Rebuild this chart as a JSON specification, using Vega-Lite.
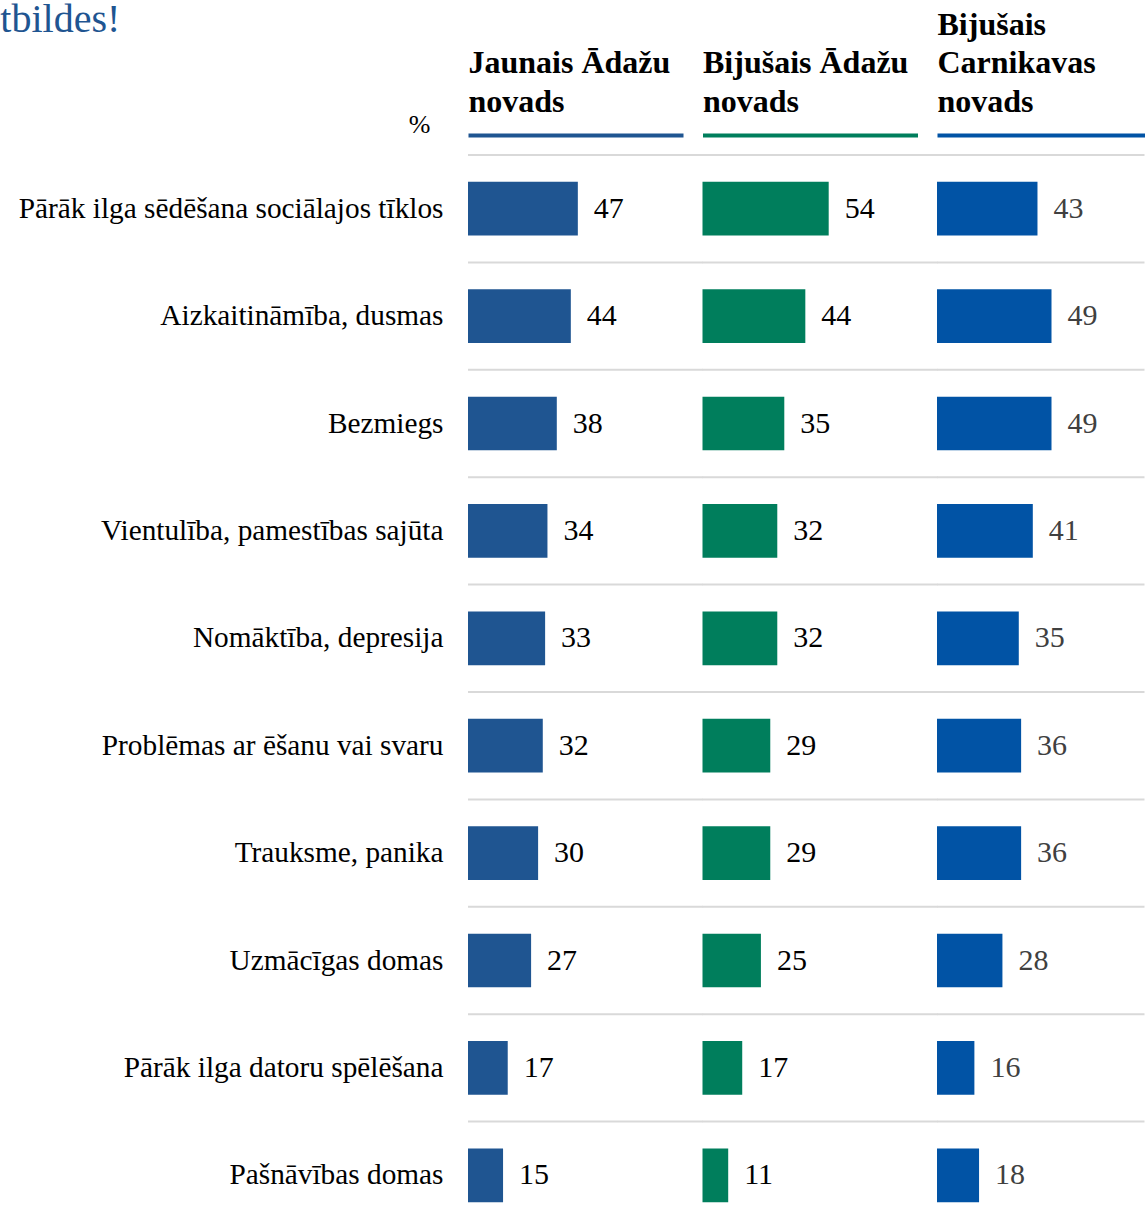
{
  "$schema": "https://vega.github.io/schema/vega-lite/v6.json",
  "background": "white",
  "padding": 0,
  "bounds": "flush",
  "spacing": 19.5,
  "title": {"text": "tbildes!", "anchor": "start", "font": "Liberation Serif", "fontSize": 40, "fontWeight": "normal", "color": "#1F5591", "offset": -32, "dx": -18},
  "config": {"view": {"stroke": null}},
  "datasets": {
    "c1": [
      {"item": "Pārāk ilga sēdēšana sociālajos tīklos", "value": 47},
      {"item": "Aizkaitināmība, dusmas", "value": 44},
      {"item": "Bezmiegs", "value": 38},
      {"item": "Vientulība, pamestības sajūta", "value": 34},
      {"item": "Nomāktība, depresija", "value": 33},
      {"item": "Problēmas ar ēšanu vai svaru", "value": 32},
      {"item": "Trauksme, panika", "value": 30},
      {"item": "Uzmācīgas domas", "value": 27},
      {"item": "Pārāk ilga datoru spēlēšana", "value": 17},
      {"item": "Pašnāvības domas", "value": 15}
    ],
    "c2": [
      {"item": "Pārāk ilga sēdēšana sociālajos tīklos", "value": 54},
      {"item": "Aizkaitināmība, dusmas", "value": 44},
      {"item": "Bezmiegs", "value": 35},
      {"item": "Vientulība, pamestības sajūta", "value": 32},
      {"item": "Nomāktība, depresija", "value": 32},
      {"item": "Problēmas ar ēšanu vai svaru", "value": 29},
      {"item": "Trauksme, panika", "value": 29},
      {"item": "Uzmācīgas domas", "value": 25},
      {"item": "Pārāk ilga datoru spēlēšana", "value": 17},
      {"item": "Pašnāvības domas", "value": 11}
    ],
    "c3": [
      {"item": "Pārāk ilga sēdēšana sociālajos tīklos", "value": 43},
      {"item": "Aizkaitināmība, dusmas", "value": 49},
      {"item": "Bezmiegs", "value": 49},
      {"item": "Vientulība, pamestības sajūta", "value": 41},
      {"item": "Nomāktība, depresija", "value": 35},
      {"item": "Problēmas ar ēšanu vai svaru", "value": 36},
      {"item": "Trauksme, panika", "value": 36},
      {"item": "Uzmācīgas domas", "value": 28},
      {"item": "Pārāk ilga datoru spēlēšana", "value": 16},
      {"item": "Pašnāvības domas", "value": 18}
    ]
  },
  "hconcat": [
    {
      "width": 215, "height": 1068,
      "data": {"name": "c1"},
      "layer": [
        {
          "mark": {"type": "rule", "color": "#D9D9D9", "strokeWidth": 2},
          "encoding": {
            "y": {"field": "item", "type": "nominal", "sort": null, "bandPosition": 0,
                  "scale": {"range": [0, 1074], "paddingInner": 0, "paddingOuter": 0},
                  "axis": {"domain": false, "ticks": false, "grid": false, "labelFont": "Liberation Serif", "labelFontSize": 29.3, "labelColor": "#000000", "labelPadding": 25, "labelLimit": 700, "title": "%", "titleAngle": 0, "titleX": -38, "titleY": -31, "titleAlign": "right", "titleBaseline": "middle", "titleFont": "Liberation Serif", "titleFontSize": 26, "titleFontWeight": "normal", "titleColor": "#000000"}},
            "x": {"datum": 0, "type": "quantitative", "scale": {"domain": [0, 92], "nice": false},
                  "axis": {"orient": "top", "offset": 20, "labels": false, "ticks": false, "grid": false, "domainColor": "#1F5591", "domainWidth": 4, "title": ["Jaunais Ādažu", "novads"], "titleAnchor": "start", "titleAlign": "left", "titleFont": "Liberation Serif", "titleFontSize": 32, "titleFontWeight": "bold", "titleColor": "#000000", "titleLineHeight": 38.5, "titlePadding": 17}},
            "x2": {"datum": 100.6}
          }
        },
        {
          "mark": {"type": "bar", "color": "#1F5591", "height": {"band": 0.5}},
          "encoding": {
            "y": {"field": "item", "type": "nominal", "sort": null,
                  "scale": {"range": [0, 1074], "paddingInner": 0, "paddingOuter": 0},
                  "axis": {"domain": false, "ticks": false, "grid": false, "labelFont": "Liberation Serif", "labelFontSize": 29.3, "labelColor": "#000000", "labelPadding": 25, "labelLimit": 700, "title": "%", "titleAngle": 0, "titleX": -38, "titleY": -31, "titleAlign": "right", "titleBaseline": "middle", "titleFont": "Liberation Serif", "titleFontSize": 26, "titleFontWeight": "normal", "titleColor": "#000000"}},
            "x": {"field": "value", "type": "quantitative", "scale": {"domain": [0, 92], "nice": false},
                  "axis": {"orient": "top", "offset": 20, "labels": false, "ticks": false, "grid": false, "domainColor": "#1F5591", "domainWidth": 4, "title": ["Jaunais Ādažu", "novads"], "titleAnchor": "start", "titleAlign": "left", "titleFont": "Liberation Serif", "titleFontSize": 32, "titleFontWeight": "bold", "titleColor": "#000000", "titleLineHeight": 38.5, "titlePadding": 17}}
          }
        },
        {
          "mark": {"type": "text", "align": "left", "baseline": "middle", "dx": 16, "font": "Liberation Serif", "fontSize": 30, "color": "#000000"},
          "encoding": {
            "y": {"field": "item", "type": "nominal", "sort": null,
                  "scale": {"range": [0, 1074], "paddingInner": 0, "paddingOuter": 0},
                  "axis": {"domain": false, "ticks": false, "grid": false, "labelFont": "Liberation Serif", "labelFontSize": 29.3, "labelColor": "#000000", "labelPadding": 25, "labelLimit": 700, "title": "%", "titleAngle": 0, "titleX": -38, "titleY": -31, "titleAlign": "right", "titleBaseline": "middle", "titleFont": "Liberation Serif", "titleFontSize": 26, "titleFontWeight": "normal", "titleColor": "#000000"}},
            "x": {"field": "value", "type": "quantitative", "scale": {"domain": [0, 92], "nice": false},
                  "axis": {"orient": "top", "offset": 20, "labels": false, "ticks": false, "grid": false, "domainColor": "#1F5591", "domainWidth": 4, "title": ["Jaunais Ādažu", "novads"], "titleAnchor": "start", "titleAlign": "left", "titleFont": "Liberation Serif", "titleFontSize": 32, "titleFontWeight": "bold", "titleColor": "#000000", "titleLineHeight": 38.5, "titlePadding": 17}},
            "text": {"field": "value", "type": "quantitative"}
          }
        }
      ]
    },
    {
      "width": 215, "height": 1068,
      "data": {"name": "c2"},
      "layer": [
        {
          "mark": {"type": "rule", "color": "#D9D9D9", "strokeWidth": 2},
          "encoding": {
            "y": {"field": "item", "type": "nominal", "sort": null, "bandPosition": 0,
                  "scale": {"range": [0, 1074], "paddingInner": 0, "paddingOuter": 0}, "axis": null},
            "x": {"datum": 0, "type": "quantitative", "scale": {"domain": [0, 92], "nice": false},
                  "axis": {"orient": "top", "offset": 20, "labels": false, "ticks": false, "grid": false, "domainColor": "#007E5C", "domainWidth": 4, "title": ["Bijušais Ādažu", "novads"], "titleAnchor": "start", "titleAlign": "left", "titleFont": "Liberation Serif", "titleFontSize": 32, "titleFontWeight": "bold", "titleColor": "#000000", "titleLineHeight": 38.5, "titlePadding": 17}},
            "x2": {"datum": 100.6}
          }
        },
        {
          "mark": {"type": "bar", "color": "#007E5C", "height": {"band": 0.5}},
          "encoding": {
            "y": {"field": "item", "type": "nominal", "sort": null,
                  "scale": {"range": [0, 1074], "paddingInner": 0, "paddingOuter": 0}, "axis": null},
            "x": {"field": "value", "type": "quantitative", "scale": {"domain": [0, 92], "nice": false},
                  "axis": {"orient": "top", "offset": 20, "labels": false, "ticks": false, "grid": false, "domainColor": "#007E5C", "domainWidth": 4, "title": ["Bijušais Ādažu", "novads"], "titleAnchor": "start", "titleAlign": "left", "titleFont": "Liberation Serif", "titleFontSize": 32, "titleFontWeight": "bold", "titleColor": "#000000", "titleLineHeight": 38.5, "titlePadding": 17}}
          }
        },
        {
          "mark": {"type": "text", "align": "left", "baseline": "middle", "dx": 16, "font": "Liberation Serif", "fontSize": 30, "color": "#000000"},
          "encoding": {
            "y": {"field": "item", "type": "nominal", "sort": null,
                  "scale": {"range": [0, 1074], "paddingInner": 0, "paddingOuter": 0}, "axis": null},
            "x": {"field": "value", "type": "quantitative", "scale": {"domain": [0, 92], "nice": false},
                  "axis": {"orient": "top", "offset": 20, "labels": false, "ticks": false, "grid": false, "domainColor": "#007E5C", "domainWidth": 4, "title": ["Bijušais Ādažu", "novads"], "titleAnchor": "start", "titleAlign": "left", "titleFont": "Liberation Serif", "titleFontSize": 32, "titleFontWeight": "bold", "titleColor": "#000000", "titleLineHeight": 38.5, "titlePadding": 17}},
            "text": {"field": "value", "type": "quantitative"}
          }
        }
      ]
    },
    {
      "width": 207.5, "height": 1068,
      "data": {"name": "c3"},
      "layer": [
        {
          "mark": {"type": "rule", "color": "#D9D9D9", "strokeWidth": 2},
          "encoding": {
            "y": {"field": "item", "type": "nominal", "sort": null, "bandPosition": 0,
                  "scale": {"range": [0, 1074], "paddingInner": 0, "paddingOuter": 0}, "axis": null},
            "x": {"datum": 0, "type": "quantitative", "scale": {"domain": [0, 88.8], "nice": false},
                  "axis": {"orient": "top", "offset": 20, "labels": false, "ticks": false, "grid": false, "domainColor": "#0153A5", "domainWidth": 4, "title": ["Bijušais", "Carnikavas", "novads"], "titleAnchor": "start", "titleAlign": "left", "titleFont": "Liberation Serif", "titleFontSize": 32, "titleFontWeight": "bold", "titleColor": "#000000", "titleLineHeight": 38.5, "titlePadding": 17}},
            "x2": {"datum": 88.8}
          }
        },
        {
          "mark": {"type": "bar", "color": "#0153A5", "height": {"band": 0.5}},
          "encoding": {
            "y": {"field": "item", "type": "nominal", "sort": null,
                  "scale": {"range": [0, 1074], "paddingInner": 0, "paddingOuter": 0}, "axis": null},
            "x": {"field": "value", "type": "quantitative", "scale": {"domain": [0, 88.8], "nice": false},
                  "axis": {"orient": "top", "offset": 20, "labels": false, "ticks": false, "grid": false, "domainColor": "#0153A5", "domainWidth": 4, "title": ["Bijušais", "Carnikavas", "novads"], "titleAnchor": "start", "titleAlign": "left", "titleFont": "Liberation Serif", "titleFontSize": 32, "titleFontWeight": "bold", "titleColor": "#000000", "titleLineHeight": 38.5, "titlePadding": 17}}
          }
        },
        {
          "mark": {"type": "text", "align": "left", "baseline": "middle", "dx": 16, "font": "Liberation Serif", "fontSize": 30, "color": "#404040"},
          "encoding": {
            "y": {"field": "item", "type": "nominal", "sort": null,
                  "scale": {"range": [0, 1074], "paddingInner": 0, "paddingOuter": 0}, "axis": null},
            "x": {"field": "value", "type": "quantitative", "scale": {"domain": [0, 88.8], "nice": false},
                  "axis": {"orient": "top", "offset": 20, "labels": false, "ticks": false, "grid": false, "domainColor": "#0153A5", "domainWidth": 4, "title": ["Bijušais", "Carnikavas", "novads"], "titleAnchor": "start", "titleAlign": "left", "titleFont": "Liberation Serif", "titleFontSize": 32, "titleFontWeight": "bold", "titleColor": "#000000", "titleLineHeight": 38.5, "titlePadding": 17}},
            "text": {"field": "value", "type": "quantitative"}
          }
        }
      ]
    }
  ]
}
